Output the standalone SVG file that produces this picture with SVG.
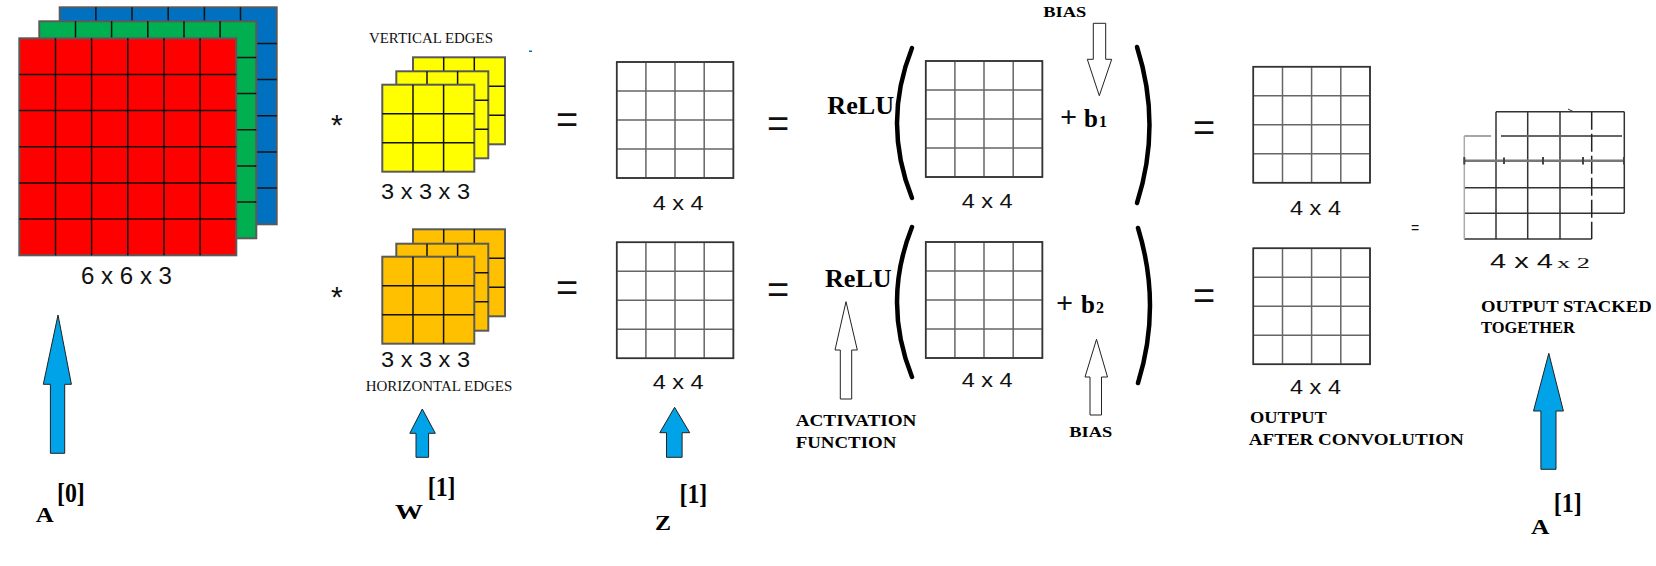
<svg xmlns="http://www.w3.org/2000/svg" xmlns:xlink="http://www.w3.org/1999/xlink" width="1656" height="566" viewBox="0 0 1656 566">
<style>
.box{stroke:#5a5a5a;stroke-width:2}
.gl{stroke:#111;stroke-width:1.5;fill:none}
.g4box{stroke:#333;stroke-width:1.5;fill:#fff}
.g4l{stroke:#666;stroke-width:1.5;fill:none}
.sans{font-family:"Liberation Sans",Arial,sans-serif;fill:#111}
.serif{font-family:"Liberation Serif","Times New Roman",serif;fill:#111}
.bold{font-family:"Liberation Serif","Times New Roman",serif;font-weight:bold;fill:#000}
.warrow{fill:#fff;stroke:#222;stroke-width:1}
.barrow{fill:#00a2e8;stroke:#222;stroke-width:1}
.brk{fill:none;stroke:#000;stroke-width:4.5;stroke-linecap:round}
.st{stroke:#333;stroke-width:1.5;fill:none}
</style>
<defs>
<g id="g6"><rect width="217" height="217" class="box"/><path class="gl" d="M36.2 0V217M72.3 0V217M108.5 0V217M144.7 0V217M180.8 0V217M0 36.2H217M0 72.3H217M0 108.5H217M0 144.7H217M0 180.8H217"/></g>
<g id="g3"><rect width="92" height="87" class="box"/><path class="gl" d="M30.7 0V87M61.3 0V87M0 29H92M0 58H92"/></g>
<g id="g4"><rect width="116.7" height="116" class="g4box"/><path class="g4l" d="M29.2 0V116M58.3 0V116M87.5 0V116M0 29H116.7M0 58H116.7M0 87H116.7"/><rect width="116.7" height="116" fill="none" stroke="#333" stroke-width="1.5"/></g>
</defs>
<rect width="1656" height="566" fill="#fff"/>

<g id="input-A0">
<use xlink:href="#g6" href="#g6" x="59.7" y="7.3" fill="#0070c0"/>
<use xlink:href="#g6" href="#g6" x="39.3" y="21.3" fill="#00b050"/>
<use xlink:href="#g6" href="#g6" x="19.3" y="38.3" fill="#ff0000"/>
<text class="sans" x="81" y="284" font-size="23" textLength="91" lengthAdjust="spacingAndGlyphs">6 x 6 x 3</text>
<text class="sans" x="331" y="135" font-size="30">*</text>
<text class="sans" x="331" y="307" font-size="30">*</text>
</g>

<g id="filter-vertical">
<text class="serif" x="369" y="43.3" font-size="15" textLength="124" lengthAdjust="spacingAndGlyphs">VERTICAL EDGES</text>
<rect x="529" y="50.5" width="3" height="1.5" fill="#0070c0"/>
<use xlink:href="#g3" href="#g3" x="413" y="57.3" fill="#ffff00"/>
<use xlink:href="#g3" href="#g3" x="396.3" y="71.3" fill="#ffff00"/>
<use xlink:href="#g3" href="#g3" x="382.3" y="84.7" fill="#ffff00"/>
<text class="sans" x="381" y="199" font-size="22" textLength="89" lengthAdjust="spacingAndGlyphs">3 x 3 x 3</text>
</g>

<g id="filter-horizontal">
<use xlink:href="#g3" href="#g3" x="413" y="229.3" fill="#ffc000"/>
<use xlink:href="#g3" href="#g3" x="396.3" y="243.7" fill="#ffc000"/>
<use xlink:href="#g3" href="#g3" x="382.3" y="256.7" fill="#ffc000"/>
<text class="sans" x="381" y="366.7" font-size="22" textLength="89" lengthAdjust="spacingAndGlyphs">3 x 3 x 3</text>
<text class="serif" x="365.7" y="390.7" font-size="15" textLength="146.6" lengthAdjust="spacingAndGlyphs">HORIZONTAL EDGES</text>
</g>

<g id="eq-1">
<text class="sans" x="556" y="133" font-size="38">=</text>
<text class="sans" x="556" y="301" font-size="38">=</text>
</g>

<g id="z-top">
<use xlink:href="#g4" href="#g4" x="616.7" y="62"/>
<text class="sans" x="652.7" y="210" font-size="20" textLength="51" lengthAdjust="spacingAndGlyphs">4 x 4</text>
</g>
<g id="z-bottom">
<use xlink:href="#g4" href="#g4" x="616.7" y="242.3"/>
<text class="sans" x="652.7" y="389.3" font-size="20" textLength="51" lengthAdjust="spacingAndGlyphs">4 x 4</text>
</g>

<g id="eq-2">
<text class="sans" x="767" y="137" font-size="38">=</text>
<text class="sans" x="767" y="303" font-size="38">=</text>
</g>

<g id="relu-top">
<text class="bold" x="827.3" y="114.3" font-size="26" textLength="66.7" lengthAdjust="spacingAndGlyphs">ReLU</text>
<path class="brk" d="M912 48 Q882 123 912 198"/>
<use xlink:href="#g4" href="#g4" x="925.7" y="61"/>
<text class="sans" x="961.7" y="208.3" font-size="20" textLength="51" lengthAdjust="spacingAndGlyphs">4 x 4</text>
<text class="bold" y="126.7" font-size="25"><tspan class="serif" x="1060" font-size="30">+</tspan><tspan x="1084">b</tspan><tspan x="1099" font-size="16">1</tspan></text>
<path class="brk" d="M1137 47 Q1162 125 1137 203"/>
<text class="bold" x="1043.3" y="16.7" font-size="15" textLength="43" lengthAdjust="spacingAndGlyphs">BIAS</text>
</g>

<g id="relu-bottom">
<text class="bold" x="825" y="287.3" font-size="26" textLength="66.7" lengthAdjust="spacingAndGlyphs">ReLU</text>
<path class="brk" d="M912 227 Q882 302 912 377"/>
<use xlink:href="#g4" href="#g4" x="925.7" y="242"/>
<text class="sans" x="961.7" y="386.7" font-size="20" textLength="51" lengthAdjust="spacingAndGlyphs">4 x 4</text>
<text class="bold" y="313.3" font-size="25"><tspan class="serif" x="1056" font-size="30">+</tspan><tspan x="1081">b</tspan><tspan x="1096" font-size="16">2</tspan></text>
<path class="brk" d="M1138 228 Q1162 306 1138 383"/>
<text class="bold" x="1069.3" y="437.3" font-size="15" textLength="43" lengthAdjust="spacingAndGlyphs">BIAS</text>
<text class="bold" x="795.7" y="425.7" font-size="16" textLength="120.7" lengthAdjust="spacingAndGlyphs">ACTIVATION</text>
<text class="bold" x="795.7" y="447.7" font-size="16" textLength="100.6" lengthAdjust="spacingAndGlyphs">FUNCTION</text>
</g>

<g id="eq-3">
<text class="sans" x="1193" y="141" font-size="38">=</text>
<text class="sans" x="1193" y="309" font-size="38">=</text>
</g>

<g id="output-top">
<use xlink:href="#g4" href="#g4" x="1253.3" y="66.7"/>
<text class="sans" x="1290" y="215" font-size="20" textLength="51" lengthAdjust="spacingAndGlyphs">4 x 4</text>
</g>
<g id="output-bottom">
<use xlink:href="#g4" href="#g4" x="1253.3" y="248.3"/>
<text class="sans" x="1290" y="394" font-size="20" textLength="51" lengthAdjust="spacingAndGlyphs">4 x 4</text>
<text class="bold" x="1250" y="423.3" font-size="16" textLength="76.7" lengthAdjust="spacingAndGlyphs">OUTPUT</text>
<text class="bold" x="1248.8" y="445" font-size="16" textLength="215" lengthAdjust="spacingAndGlyphs">AFTER CONVOLUTION</text>
</g>

<g id="output-stacked">
<text class="sans" x="1411" y="233" font-size="14">=</text>
<path class="st" d="M1496 111.7H1624.3M1464.3 187.7H1624.3M1464.3 213.3H1624.3M1464.3 239H1591.7M1496 111.7V239M1527.7 111.7V239M1560 111.7V239M1624.3 111.7V213.3"/>
<path d="M1464.3 136H1491" stroke="#888" stroke-width="1.5"/>
<path d="M1501 136H1622" stroke="#666" stroke-width="2"/>
<path d="M1464.3 136V239" stroke="#aaa" stroke-width="1.5"/>
<path d="M1591.7 111.7V239" stroke="#222" stroke-width="1.5" stroke-dasharray="18 4"/>
<path d="M1464.3 160.7H1624.3" stroke="#777" stroke-width="2.5"/>
<path d="M1464.3 157V164.5M1504 157.5V164M1543 157V164.5M1583 157V164.5M1624 157V164.5" stroke="#444" stroke-width="2"/>
<path d="M1568 109L1573 111.5" stroke="#333" stroke-width="1" fill="none"/>
<text class="sans" x="1490" y="268.3" font-size="21" textLength="63" lengthAdjust="spacingAndGlyphs">4 x 4</text>
<text class="serif" x="1557" y="268.3" font-size="15" textLength="33" lengthAdjust="spacingAndGlyphs"> x 2</text>
<text class="bold" x="1481" y="311.7" font-size="16" textLength="170.7" lengthAdjust="spacingAndGlyphs">OUTPUT STACKED</text>
<text class="bold" x="1481" y="333.3" font-size="16" textLength="94" lengthAdjust="spacingAndGlyphs">TOGETHER</text>
</g>

<g id="label-A0">
<text class="bold" x="35.7" y="521.7" font-size="20" textLength="18" lengthAdjust="spacingAndGlyphs">A</text>
<text class="bold" x="57" y="502" font-size="27" textLength="27.8" lengthAdjust="spacingAndGlyphs">[0]</text>
</g>
<g id="label-W1">
<text class="bold" x="395" y="519" font-size="21" textLength="28" lengthAdjust="spacingAndGlyphs">W</text>
<text class="bold" x="427.7" y="495.5" font-size="27" textLength="27.8" lengthAdjust="spacingAndGlyphs">[1]</text>
</g>
<g id="label-Z1">
<text class="bold" x="655" y="530" font-size="21" textLength="16" lengthAdjust="spacingAndGlyphs">Z</text>
<text class="bold" x="679.5" y="503" font-size="27" textLength="27.8" lengthAdjust="spacingAndGlyphs">[1]</text>
</g>
<g id="label-A1">
<text class="bold" x="1531" y="534" font-size="20" textLength="18.4" lengthAdjust="spacingAndGlyphs">A</text>
<text class="bold" x="1553.7" y="511.5" font-size="27" textLength="28" lengthAdjust="spacingAndGlyphs">[1]</text>
</g>

<g id="connectors">
<polygon class="warrow" points="846,301.7 857.3,350 851.7,350 851.7,399 840.3,399 840.3,350 835,350"/>
<polygon class="warrow" points="1093.3,23.3 1105.7,23.3 1105.7,59.3 1111.7,59.3 1099.3,95.7 1087.3,59.3 1093.3,59.3"/>
<polygon class="warrow" points="1096.5,339.3 1107.5,377 1101.5,377 1101.5,415 1090,415 1090,377 1085,377"/>
<polygon class="barrow" points="58,315 71.4,384.3 64.7,384.3 64.7,453.3 50.4,453.3 50.4,384.3 43.3,384.3"/>
<polygon class="barrow" points="422.3,409 435.3,433.3 428.6,433.3 428.6,457.3 416,457.3 416,433.3 409.8,433.3"/>
<polygon class="barrow" points="674.6,407.3 689.7,432.7 682.1,432.7 682.1,457.3 666.5,457.3 666.5,432.7 659.8,432.7"/>
<polygon class="barrow" points="1548.8,353.3 1563.4,411 1556,411 1556,469.3 1540.9,469.3 1540.9,411 1533.5,411"/>
</g>
</svg>
